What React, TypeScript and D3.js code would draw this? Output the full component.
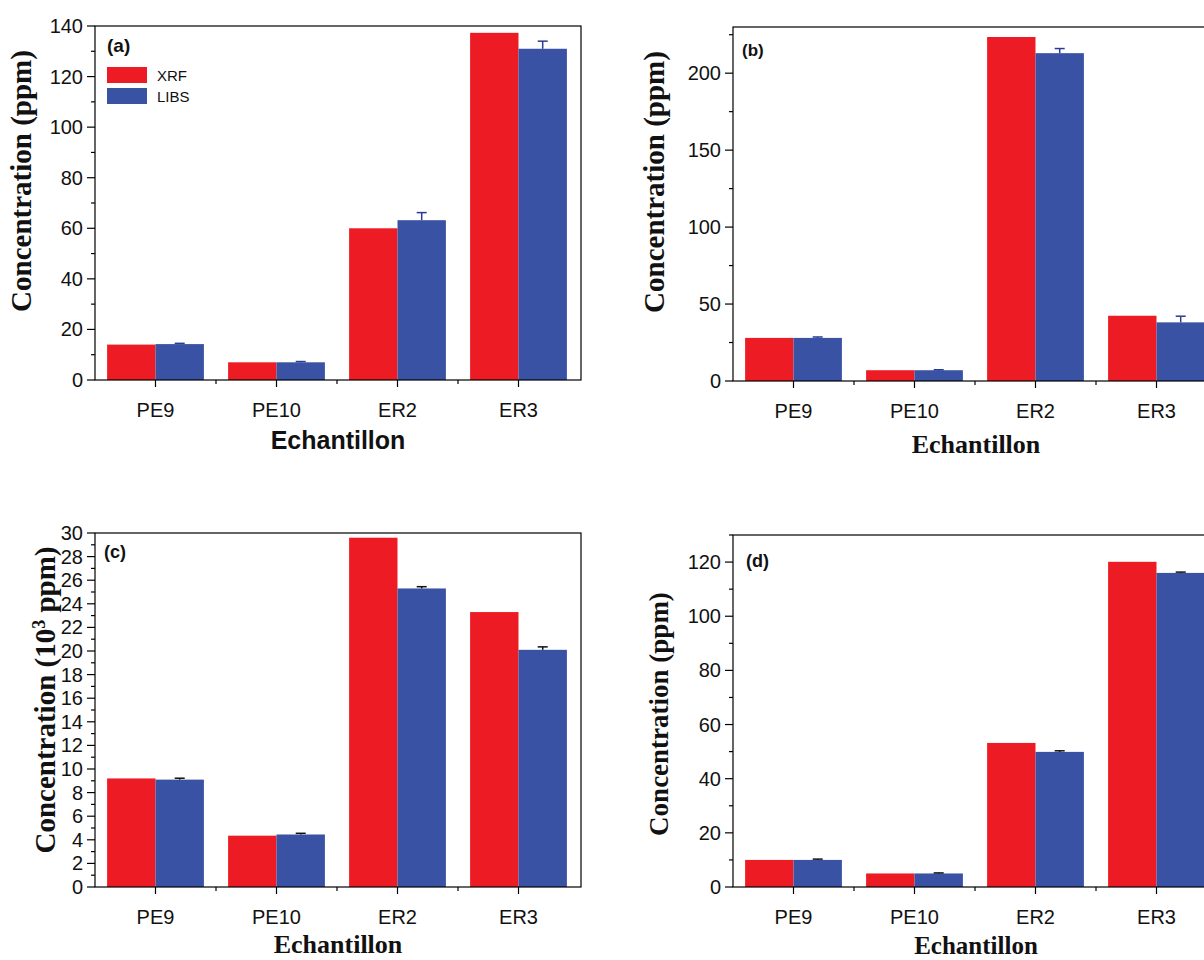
import React from "react";
import * as d3 from "d3";

const categories = ["PE9", "PE10", "ER2", "ER3"];
const seriesNames = ["XRF", "LIBS"];

const xrfA = [14, 7, 60, 137.3];
const libsA = [14.2, 7, 63.2, 131];
const errA = [0.3, 0.3, 3, 3];

const xrfB = [28, 7, 223.5, 42.4];
const libsB = [28, 7, 213, 38.1];
const errB = [0.6, 0.3, 3, 4];

const xrfC = [9.2, 4.35, 29.6, 23.3];
const libsC = [9.1, 4.45, 25.3, 20.1];
const errC = [0.12, 0.1, 0.15, 0.25];

const xrfD = [10, 5, 53.2, 120.1];
const libsD = [10, 5, 49.9, 116];
const errD = [0.3, 0.2, 0.4, 0.3];

const RED = "#ED1C24";
const BLUE = "#3A52A3";
const SANS = "'Liberation Sans', Arial, sans-serif";
const SERIF = "'Liberation Serif', 'Times New Roman', serif";

type PanelProps = {
  left: number; top: number; bottom: number; right: number;
  yMax: number; major: number; minor: number;
  xrf: number[]; libs: number[]; err: number[];
  errColor: string;
  tag: string; tagX: number; tagY: number; tagSize: number;
  yLabel: React.ReactNode; yLabelX: number; yLabelY: number; yLabelSize: number;
  xLabelFont: string; xLabelY: number; xLabelSize: number;
  legend?: boolean;
};

function Panel(p: PanelProps) {
  const x = d3.scaleBand<string>().domain(categories).range([p.left, p.right - 2]).paddingInner(0.2).paddingOuter(0.1);
  const step = x.step();
  const xi = d3.scaleBand<string>().domain(seriesNames).range([0, x.bandwidth()]);
  const y = d3.scaleLinear().domain([0, p.yMax]).range([p.bottom, p.top]);
  const majors = d3.range(0, p.yMax + 1e-9, p.major);
  const minors = d3.range(0, p.yMax + 1e-9, p.minor).filter((v) => Math.abs(v / p.major - Math.round(v / p.major)) > 1e-6);
  const bounds = categories.slice(1).map((c) => (x(c) as number) - (step - x.bandwidth()) / 2);
  const capW = 5;
  return (
    <g>
      {categories.map((c, i) => {
        const x0 = x(c) as number;
        const vals = [p.xrf[i], p.libs[i]];
        return (
          <g key={c}>
            {seriesNames.map((s, j) => (
              <rect key={s} x={x0 + (xi(s) as number)} y={y(vals[j])} width={xi.bandwidth()} height={y(0) - y(vals[j])} fill={j === 0 ? RED : BLUE} />
            ))}
            {(() => {
              const cx = x0 + (xi("LIBS") as number) + xi.bandwidth() / 2;
              const yt = y(p.libs[i] + p.err[i]);
              return (
                <g stroke={p.errColor} strokeWidth={1.5}>
                  <line x1={cx} x2={cx} y1={y(p.libs[i])} y2={yt} />
                  <line x1={cx - capW} x2={cx + capW} y1={yt} y2={yt} />
                </g>
              );
            })()}
          </g>
        );
      })}
      <rect x={p.left} y={p.top} width={p.right - p.left} height={p.bottom - p.top} fill="none" stroke="#000" strokeWidth={1.2} />
      {majors.map((v) => (
        <g key={"M" + v}>
          <line x1={p.left - 8} x2={p.left} y1={y(v)} y2={y(v)} stroke="#000" strokeWidth={1.2} />
          <text x={p.left - 12} y={y(v)} dy="0.35em" textAnchor="end" fontFamily={SANS} fontSize={20} fill="#111">{v}</text>
        </g>
      ))}
      {minors.map((v) => (
        <line key={"m" + v} x1={p.left - 4} x2={p.left} y1={y(v)} y2={y(v)} stroke="#000" strokeWidth={1.2} />
      ))}
      {categories.map((c) => {
        const cx = (x(c) as number) + x.bandwidth() / 2;
        return (
          <g key={"xt" + c}>
            <line x1={cx} x2={cx} y1={p.bottom} y2={p.bottom + 7} stroke="#000" strokeWidth={1.2} />
            <text x={cx} y={p.bottom + 37} textAnchor="middle" fontFamily={SANS} fontSize={20} fill="#111">{c}</text>
          </g>
        );
      })}
      {bounds.map((b, i) => (
        <line key={"xb" + i} x1={b} x2={b} y1={p.bottom} y2={p.bottom + 4} stroke="#000" strokeWidth={1.2} />
      ))}
      <text x={p.tagX} y={p.tagY} fontFamily={SANS} fontWeight="bold" fontSize={p.tagSize} fill="#111">{p.tag}</text>
      {p.legend && (
        <g>
          <rect x={107} y={67} width={40} height={16} fill={RED} />
          <rect x={107} y={88} width={40} height={16} fill={BLUE} />
          <text x={157} y={81} fontFamily={SANS} fontSize={15} fill="#111">XRF</text>
          <text x={157} y={102} fontFamily={SANS} fontSize={15} fill="#111">LIBS</text>
        </g>
      )}
      <text transform={`translate(${p.yLabelX},${p.yLabelY}) rotate(-90)`} textAnchor="middle" fontFamily={SERIF} fontWeight="bold" fontSize={p.yLabelSize} fill="#111">{p.yLabel}</text>
      <text x={(p.left + 581 - 95 + p.left) / 2} y={p.xLabelY} textAnchor="middle" fontFamily={p.xLabelFont} fontWeight="bold" fontSize={p.xLabelSize} fill="#111">Echantillon</text>
    </g>
  );
}

export default function App() {
  return (
    <svg width={1204} height={960} style={{ position: "absolute", left: 0, top: 0, background: "#fff" }}>
      <rect width={1204} height={960} fill="#fff" />
      <Panel left={95} top={26} bottom={380} right={581} yMax={140} major={20} minor={10}
        xrf={xrfA} libs={libsA} err={errA} errColor="#2B3C96"
        tag="(a)" tagX={107} tagY={52} tagSize={19}
        yLabel="Concentration (ppm)" yLabelX={31} yLabelY={181} yLabelSize={29}
        xLabelFont={SANS} xLabelY={449} xLabelSize={25} legend />
      <Panel left={733} top={27} bottom={381} right={1219} yMax={230} major={50} minor={25}
        xrf={xrfB} libs={libsB} err={errB} errColor="#2B3C96"
        tag="(b)" tagX={742} tagY={56} tagSize={17}
        yLabel="Concentration (ppm)" yLabelX={664} yLabelY={182} yLabelSize={29}
        xLabelFont={SERIF} xLabelY={453} xLabelSize={26} />
      <Panel left={95} top={533} bottom={887} right={581} yMax={30} major={2} minor={1}
        xrf={xrfC} libs={libsC} err={errC} errColor="#111"
        tag="(c)" tagX={104} tagY={558} tagSize={18}
        yLabel={<>
          <tspan>Concentration (10</tspan>
          <tspan dy="-10" fontSize={18}>3</tspan>
          <tspan dy="10"> ppm)</tspan>
        </>} yLabelX={55} yLabelY={700} yLabelSize={29}
        xLabelFont={SERIF} xLabelY={953} xLabelSize={26} />
      <Panel left={733} top={535} bottom={887} right={1219} yMax={130} major={20} minor={10}
        xrf={xrfD} libs={libsD} err={errD} errColor="#111"
        tag="(d)" tagX={746} tagY={567} tagSize={18}
        yLabel="Concentration (ppm)" yLabelX={668} yLabelY={714} yLabelSize={27}
        xLabelFont={SERIF} xLabelY={954} xLabelSize={25} />
    </svg>
  );
}
